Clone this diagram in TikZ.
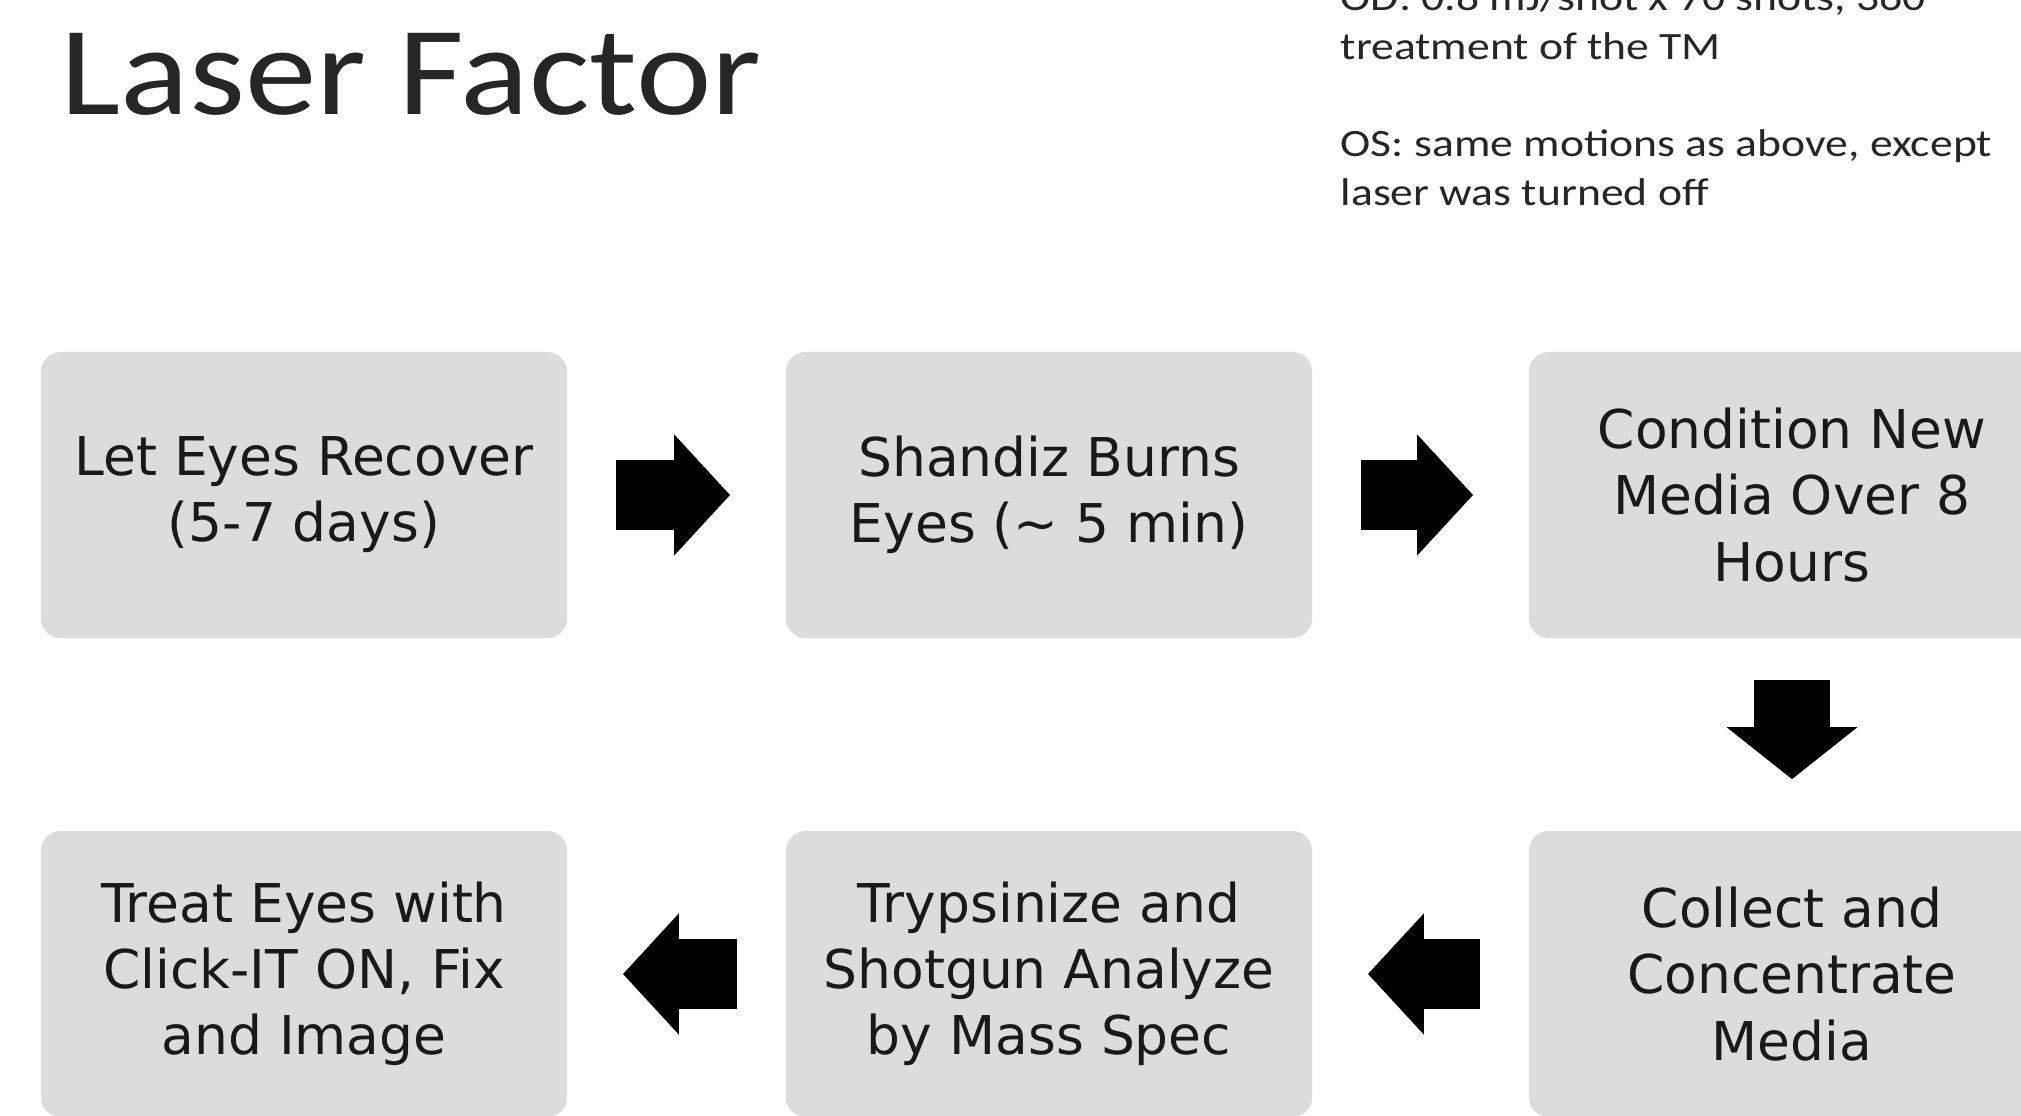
\documentclass[tikz,border=0pt]{standalone}
\usepackage{fontspec}
\setmainfont{DejaVu Sans}
\newfontfamily\calfont[FakeStretch=1.13]{Carlito}
\newfontfamily\notefont[FakeStretch=1.18]{Carlito}
\usetikzlibrary{arrows.meta}
\definecolor{boxgray}{RGB}{220,220,220}
\tikzset{
  stepbox/.style={fill=boxgray, rounded corners=0.2cm, minimum width=5.26cm, minimum height=2.86cm,
    inner sep=0pt, align=center, text=black!90, font=\fontsize{15.2}{18.8}\selectfont},
  blockarrow/.style={line width=0.7cm, -{Triangle[width=1.18cm, length=0.56cm]},
    shorten <=0.48cm, shorten >=0.55cm}
}

\begin{document}
\begin{tikzpicture}[x=0.01cm, y=-0.01cm]
\useasboundingbox (0,0) rectangle (2021,1115);
\clip (0,0) rectangle (2021,1115);
\node (TTL) [anchor=base west, inner sep=0pt, text=black!85, font=\calfont\fontsize{36}{40}\selectfont] at (60,114) {Laser Factor};
\node (NOTE) [anchor=base west, inner sep=0pt, align=left, text=black!85, font=\notefont\fontsize{11}{13.8}\selectfont] at (1340,205)
  {OD: 0.8 mJ/shot x 70 shots, 360\\treatment of the TM\\[13.8pt]OS: same motions as above, except\\laser was turned off};
%Steps:
\node (LE) [stepbox] at (304,495) {Let Eyes Recover\\(5-7 days)};
\node (SB) [stepbox] at (1049,495) {Shandiz Burns\\Eyes (\textasciitilde{} 5 min)};
\node (CN) [stepbox] at (1792,495) {Condition New\\Media Over 8\\Hours};
\node (CC) [stepbox] at (1792,974) {Collect and\\Concentrate\\Media};
\node (TS) [stepbox] at (1049,974) {Trypsinize and\\Shotgun Analyze\\by Mass Spec};
\node (TE) [stepbox] at (304,974) {Treat Eyes with\\Click-IT ON, Fix\\and Image};
%Flow:
\path [blockarrow]
(LE) edge (SB)
(SB) edge (CN)
(CN) edge [line width=0.76cm, shorten <=0.41cm, shorten >=0.51cm, -{Triangle[width=1.28cm, length=0.52cm]}] (CC)
(CC) edge (TS)
(TS) edge (TE)
;
\end{tikzpicture}
\end{document}
